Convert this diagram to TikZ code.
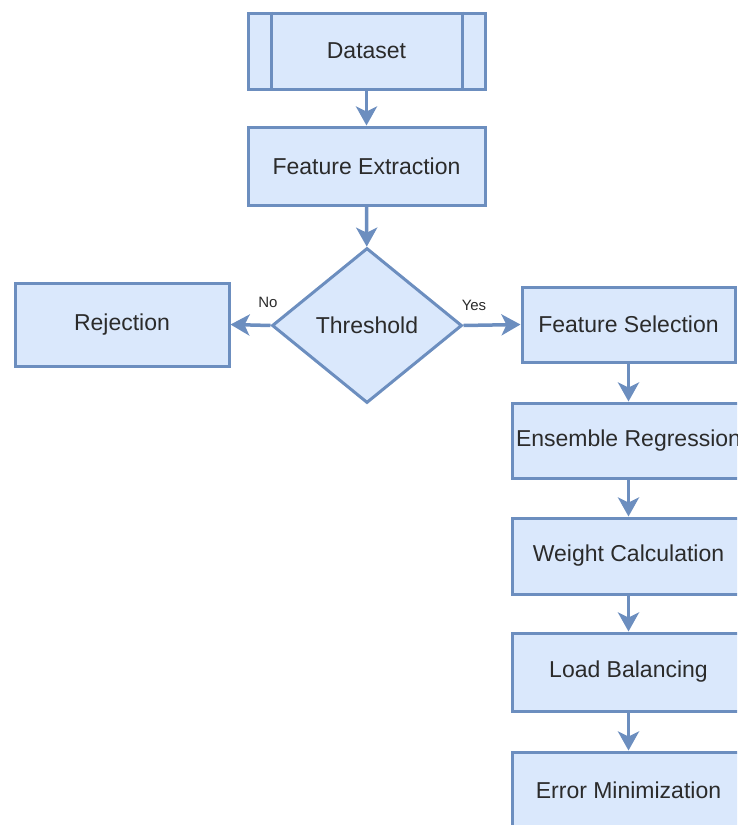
\documentclass[tikz,border=0pt]{standalone}
\usepackage{fontspec}
\setmainfont{Liberation Sans}
\usetikzlibrary{shapes.geometric,arrows.meta}
\definecolor{boxfill}{HTML}{DAE8FC}
\definecolor{boxline}{HTML}{6C8EBF}
\definecolor{txt}{HTML}{2B2B2B}
\tikzset{
  box/.style={draw=boxline, fill=boxfill, line width=3pt, rectangle, inner sep=0pt,
    text=txt, font=\fontsize{23}{26}\selectfont},
  dec/.style={draw=boxline, fill=boxfill, line width=3pt, diamond, inner sep=0pt, aspect=1.2,
    minimum width=190pt, minimum height=155pt, text=txt, font=\fontsize{23}{26}\selectfont},
  conn/.style={draw=boxline, line width=3.5pt, -{Stealth[length=19pt,width=21pt,inset=5pt]}},
  lbl/.style={text=txt, font=\fontsize{15}{17}\selectfont, inner sep=0pt}
}
\begin{document}
\begin{tikzpicture}[x=1pt,y=-1pt]
\useasboundingbox (0,0) rectangle (737,825);
\clip (0,0) rectangle (737,825);
\node[box, minimum width=237pt, minimum height=76pt] (ds) at (366.5,51) {Dataset};
\draw[boxline, line width=3pt] ([xshift=25pt]ds.north west) -- ([xshift=25pt]ds.south west);
\draw[boxline, line width=3pt] ([xshift=-24pt]ds.north east) -- ([xshift=-24pt]ds.south east);
\node[box, minimum width=237pt, minimum height=78pt] (fe) at (366.5,166) {Feature Extraction};
\node[dec] (th) at (367,325.5) {Threshold};
\node[box, minimum width=214pt, minimum height=83pt] (rej) at (122,324.5) {Rejection};
\node[box, minimum width=213pt, minimum height=75pt] (fs) at (628.5,324.5) {Feature Selection};
\node[box, minimum width=232pt, minimum height=75pt] (er) at (628.5,440.5) {Ensemble Regression};
\node[box, minimum width=232pt, minimum height=76pt] (wc) at (628.5,556) {Weight Calculation};
\node[box, minimum width=232pt, minimum height=78pt] (lb) at (628.5,672) {Load Balancing};
\node[box, minimum width=232pt, minimum height=76pt] (em) at (628.5,790) {Error Minimization};
\draw[conn] (ds) -- (fe);
\draw[conn] (fe) -- (th);
\draw[conn] (th.west) -- (rej.east);
\draw[conn] (th.east) -- (fs.west);
\draw[conn] (fs) -- (er);
\draw[conn] (er) -- (wc);
\draw[conn] (wc) -- (lb);
\draw[conn] (lb) -- (em);
\node[lbl] (no) at (268,302) {No};
\node[lbl] (yes) at (474,305) {Yes};
\end{tikzpicture}
\end{document}
